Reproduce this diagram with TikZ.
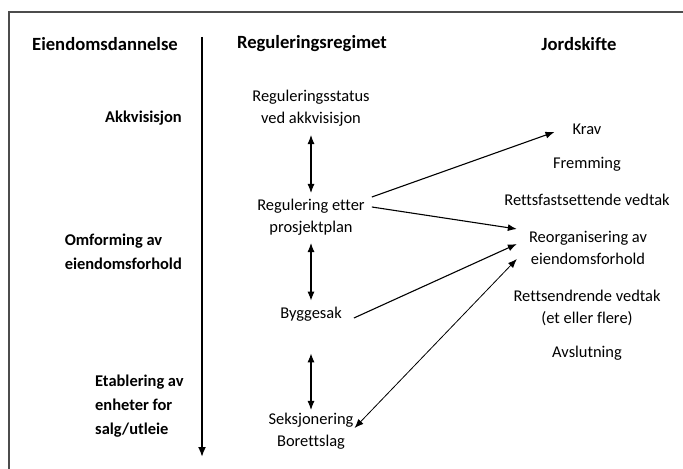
\documentclass[tikz,border=0pt]{standalone}
\usepackage{fontspec}
\setmainfont[Ligatures=NoCommon]{Carlito}
\usetikzlibrary{arrows.meta}

\begin{document}
\begin{tikzpicture}[x=1bp, y=-1bp, every node/.style={inner sep=1bp},
  head/.style={font=\fontsize{18.7}{22}\selectfont\bfseries},
  phase/.style={font=\fontsize{16.5}{24}\selectfont\bfseries, align=left},
  item/.style={font=\fontsize{16.5}{21.5}\selectfont, align=center},
  arr/.style={-{Latex[length=9bp,width=7bp]}, line width=1.1bp},
  dbl/.style={{Latex[length=9bp,width=7bp]}-{Latex[length=9bp,width=7bp]}, line width=1.1bp}]
\useasboundingbox (0,0) rectangle (683,469);
\draw[line width=1.5bp, black!70] (9,469) -- (9,12) -- (683,12);
% column heads
\node[head] (hEiendom) at (105,44) {Eiendomsdannelse};
\node[head] (hRegul) at (312,44) {Reguleringsregimet};
\node[head] (hJord) at (579,44) {Jordskifte};
% time axis
\coordinate (tStart) at (202,37);
\coordinate (tEnd) at (202,457);
\draw[-{Latex[length=10bp,width=8bp]}, line width=1.8bp] (tStart) -- (tEnd);
\node[phase, anchor=east] (akkv) at (183,118) {Akkvisisjon};
\node[phase, anchor=east] (omform) at (183,252) {Omforming av\\eiendomsforhold};
\node[phase, anchor=west] (etabl) at (94,406) {Etablering av\\enheter for\\salg/utleie};
% regulering
\node[item] (status) at (311,108) {Reguleringsstatus\\ved akkvisisjon};
\node[item] (plan) at (311,217) {Regulering etter\\prosjektplan};
\node[item] (bygg) at (311,314) {Byggesak};
\node[item] (seksj) at (311,431) {Seksjonering\\Borettslag};
\draw[dbl] ([yshift=-8bp]status.south) -- ([yshift=5bp]plan.north);
\draw[dbl] ([yshift=-7bp]plan.south) -- ([yshift=5bp]bygg.north);
\draw[dbl] ([yshift=-31bp]bygg.south) -- ([yshift=2bp]seksj.north);
% jordskifte
\node[item] (krav) at (587,129) {Krav};
\node[item] (fremming) at (587,164) {Fremming};
\node[item] (fastsett) at (587,200) {Rettsfastsettende vedtak};
\node[item] (reorg) at (588,248) {Reorganisering av\\eiendomsforhold};
\node[item] (endr) at (587,308) {Rettsendrende vedtak\\(et eller flere)};
\node[item] (avslut) at (587,353) {Avslutning};
% koblinger
\draw[arr] ([shift={(6,-20)}]plan.east) -- ([shift={(-17,3)}]krav.west);
\draw[arr] ([shift={(6,-10)}]plan.east) -- ([shift={(-11,-19)}]reorg.west);
\draw[arr] ([shift={(11,4)}]bygg.east) -- ([shift={(-11,-4)}]reorg.west);
\draw[dbl, line width=0.8bp] ([shift={(-11,11)}]reorg.west) -- ([shift={(0,-3)}]seksj.east);
\end{tikzpicture}
\end{document}
